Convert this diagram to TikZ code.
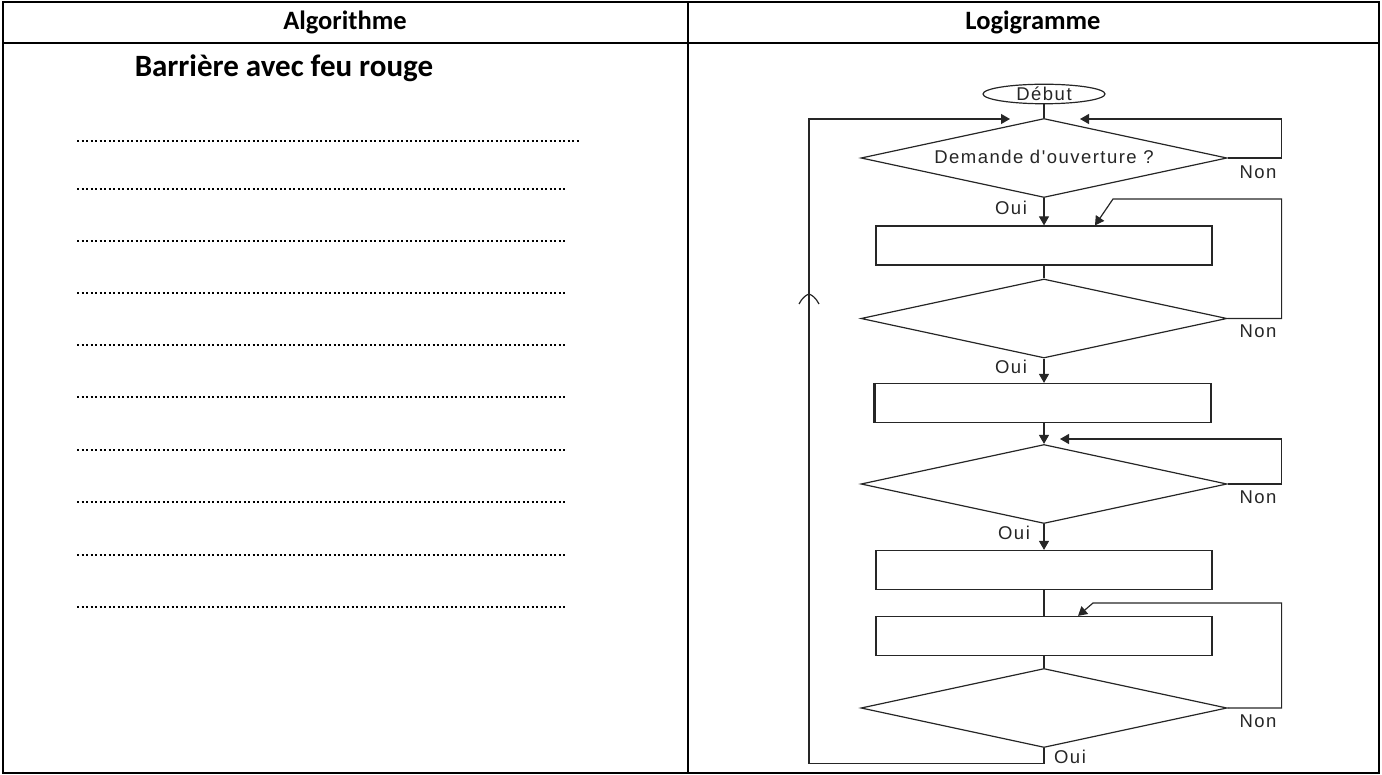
\documentclass[tikz,border=0pt]{standalone}
\usepackage{fontspec}
\setmainfont{Carlito}
\newfontfamily\flowfont[LetterSpace=8]{Liberation Sans}
\usetikzlibrary{shapes.geometric,arrows.meta}
\begin{document}
\begin{tikzpicture}[x=1pt,y=-1pt,
 tbl/.style={line width=2pt},
 dotline/.style={line width=2pt, dash pattern=on 2pt off 2.5pt},
 fl/.style={line width=1.2pt, draw=black!85},
 dia/.style={diamond, draw=black!85, line width=1.2pt, minimum width=366pt, minimum height=79pt, inner sep=0pt},
 boxx/.style={rectangle, draw=black!85, line width=1.2pt, minimum width=336pt, minimum height=39pt, inner sep=0pt},
 lbl/.style={font=\flowfont\fontsize{18.5}{20}\selectfont, inner sep=0pt, text=black!85},
 arr/.style={fl, -{Triangle[length=9pt,width=10pt]}},
 hdr/.style={font=\bfseries\fontsize{26.5}{30}\selectfont, inner sep=0pt},
 ttlstyle/.style={font=\bfseries\fontsize{31}{34}\selectfont, inner sep=0pt}
]
\useasboundingbox (0,0) rectangle (1382,775);
% table
\draw[tbl] (3,2) rectangle (1379,773);
\draw[tbl] (3,43) -- (1379,43);
\draw[tbl] (688,2) -- (688,773);
\node[hdr] (h1) at (345,22) {Algorithme};
\node[hdr] (h2) at (1033,22) {Logigramme};
\node[ttlstyle] (ttl) at (284,68) {Barrière avec feu rouge};
% dotted lines
\draw[dotline] (77,141) -- (580,141);
\foreach \yy in {189,241,293,345,397,450,502,555,607}{
  \draw[dotline] (77,\yy) -- (566,\yy);
}
% flowchart nodes
\node[ellipse, draw=black!85, line width=1.2pt, minimum width=122pt, minimum height=18pt, inner sep=0pt, lbl] (debut) at (1044,94) {Début};
\node[dia] (d1) at (1044,158) {};
\node[lbl] (q1) at (1044,157) {Demande d'ouverture ?};
\node[boxx] (b1) at (1044,245.5) {};
\node[dia] (d2) at (1044,318.5) {};
\node[boxx] (b2) at (1043,403) {};
\node[dia] (d3) at (1044,484) {};
\node[boxx] (b3) at (1044,570) {};
\node[boxx] (b4) at (1044,636) {};
\node[dia] (d4) at (1044,708) {};
\draw[line width=2.4pt, black!85] (b2.north west) -- (b2.south west);
% coordinates for loop ends
\coordinate (m1L) at (1010,119);
\coordinate (m1R) at (1080,119);
\coordinate (c2) at (1113,199);
\coordinate (t2) at ([xshift=51pt]b1.north);
\coordinate (t3) at (1060,439);
\coordinate (c4) at (1093,603);
\coordinate (t4) at ([xshift=34pt]b4.north);
\coordinate (chev) at (809,294);
% main flow
\draw[fl] (debut.south) -- (d1.north);
\draw[arr] (d1.south) -- (b1.north);
\draw[fl] (b1.south) -- (d2.north);
\draw[arr] (d2.south) -- (d2.south |- b2.north);
\draw[arr] (d2.south |- b2.south) -- (d3.north);
\draw[arr] (d3.south) -- (b3.north);
\draw[fl] (b3.south) -- (b4.north);
\draw[fl] (b4.south) -- (d4.north);
% loops
\draw[arr] (d4.south) -- ++(0,15) -| (chev) |- (m1L);
\draw[arr] (d1.east) -- ++(54,0) |- (m1R);
\draw[arr] (d2.east) -- ++(54,0) |- (c2) -- (t2);
\draw[arr] (d3.east) -- ++(54,0) |- (t3);
\draw[arr] (d4.east) -- ++(54,0) |- (c4) -- (t4);
% chevron on return line
\draw[fl] ([xshift=-10pt,yshift=-10pt]chev) .. controls ([xshift=-7pt,yshift=-4pt]chev) and ([xshift=-3pt,yshift=-1pt]chev) .. (chev) .. controls ([xshift=3pt,yshift=-1pt]chev) and ([xshift=7pt,yshift=-4pt]chev) .. ([xshift=10pt,yshift=-10pt]chev);
% labels
\node[lbl] (o1) at (1011,208) {Oui};
\node[lbl] (o2) at (1011,367) {Oui};
\node[lbl] (o3) at (1014,533) {Oui};
\node[lbl] (o4) at (1070,757) {Oui};
\node[lbl] (n1) at (1258,172) {Non};
\node[lbl] (n2) at (1258,331) {Non};
\node[lbl] (n3) at (1258,497) {Non};
\node[lbl] (n4) at (1258,721) {Non};
\end{tikzpicture}
\end{document}
